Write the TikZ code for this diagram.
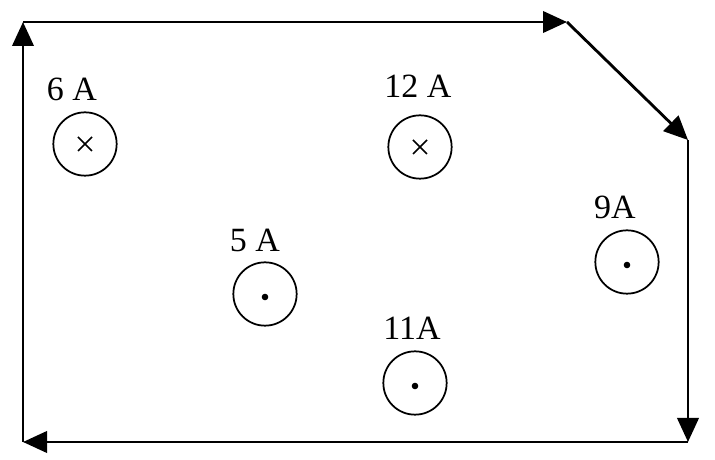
\documentclass[tikz,border=0pt]{standalone}
\usepackage{fontspec}
\setmainfont{Liberation Serif}
\usetikzlibrary{positioning,arrows.meta}
\tikzset{
  wire/.style={draw, line width=2.4pt, -{Triangle[length=0.72cm,width=0.64cm]}},
  coil/.style={circle, draw, line width=1.5pt, minimum size=1.9cm, inner sep=0pt},
  amps/.style={font=\fontsize{29}{30}\selectfont, inner sep=0pt}
}
% current into the page / out of the page
\newcommand{\intocoil}[1]{
\draw[line width=1.3pt] ([shift={(-7,-7)}]#1.center) -- ([shift={(7,7)}]#1.center)
  ([shift={(-7,7)}]#1.center) -- ([shift={(7,-7)}]#1.center);
}
\newcommand{\outcoil}[1]{
\fill ([shift={(0,3)}]#1.center) circle[radius=3.3];
}

\begin{document}
\begin{tikzpicture}[x=0.03cm, y=-0.03cm]
    \useasboundingbox (0,0) rectangle (715,460);
    % the loop
    \coordinate (bl) at (23,442);
    \coordinate (tl) at (23,22);
    \coordinate (tm) at (567,22);
    \coordinate (rt) at (688,140);
    \coordinate (br) at (688,442);
    \draw[wire] (bl) -- (tl);
    \draw[wire] (tl) -- (tm);
    \draw[wire] (tm) -- (rt);
    \draw[wire] (rt) -- (br);
    \draw[wire] (br) -- (bl);
    % the wires through the page
    \node (c6) [coil] at (85,144) {};
    \node (c12) [coil] at (420,147) {};
    \node (c5) [coil] at (265,294) {};
    \node (c11) [coil] at (415,383) {};
    \node (c9) [coil] at (627,262) {};
    \node (l6) [amps] at (72,89) {6 A};
    \node (l12) [amps] at (418,86) {12 A};
    \node (l5) [amps] at (255,240) {5 A};
    \node (l11) [amps] at (412,328) {11A};
    \node (l9) [amps] at (615,207) {9A};
    \intocoil{c6}
    \intocoil{c12}
    \outcoil{c5}
    \outcoil{c11}
    \outcoil{c9}
  \end{tikzpicture}
\end{document}
